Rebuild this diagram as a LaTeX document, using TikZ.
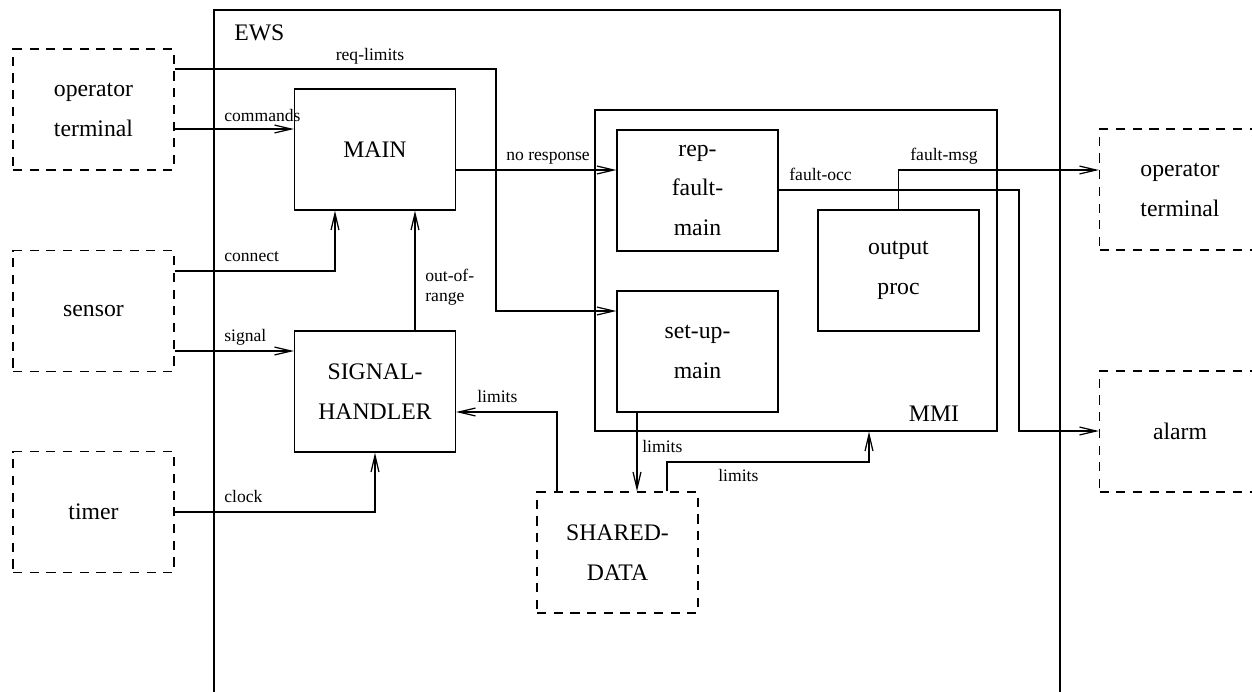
\documentclass[tikz,border=0pt]{standalone}
\usepackage{fontspec}
\setmainfont{Liberation Serif}
\usetikzlibrary{arrows.meta}

\tikzset{
	blk/.style={draw, line width=0.75pt, minimum width=3.22cm, minimum height=2.42cm, inner sep=0pt, align=center, font=\fontsize{13.5}{22.7}\selectfont},
	ext/.style={blk, dash pattern=on 5.2pt off 4.3pt},
	lbl/.style={anchor=base west, inner sep=0pt, font=\fontsize{10}{11.3}\selectfont},
	flow/.style={line width=0.7pt, -{Straight Barb[length=9.5pt,width=4.5pt]}},
}

\begin{document}
\begin{tikzpicture}[x=0.02cm, y=-0.02cm]
					\path[use as bounding box, clip] (0,0) rectangle (1252,691);
					% EWS and MMI
					\draw[line width=0.75pt] (214,10) rectangle (1060,720);
					\node[lbl, font=\fontsize{13.5}{16}\selectfont] (ews) at (234,40) {EWS};
					\node[draw, line width=0.75pt, minimum width=8.04cm, minimum height=6.42cm] (mmi) at (796,270.5) {};
					\node[lbl, anchor=base, font=\fontsize{13.5}{16}\selectfont] (mmilbl) at (934,421) {MMI};
					% boxes
					\node[ext] (opl) at (93.5,109.5) {operator\\terminal};
					\node[ext] (sensor) at (93.5,311) {sensor};
					\node[ext] (timer) at (93.5,512) {timer};
					\node[blk] (main) at (375,149.5) {MAIN};
					\node[blk] (sighand) at (375,391.5) {SIGNAL-\\HANDLER};
					\node[blk] (rfm) at (697.5,190.5) {rep-\\fault-\\main};
					\node[blk] (sum) at (697.5,351.5) {set-up-\\main};
					\node[blk] (outp) at (898.5,270.5) {output\\proc};
					\node[ext] (shared) at (617.5,552.5) {SHARED-\\DATA};
					\node[ext] (opr) at (1180,189.5) {operator\\terminal};
					\node[ext] (alarm) at (1180,431.5) {alarm};
					% connectors
					\draw[flow] (opl.east |- 0,69) -- (496,69) -- (496,311) -- (sum.west |- 0,311);
					\draw[flow] (opl.east |- 0,129) -- (main.west |- 0,129);
					\draw[flow] (main.east |- 0,170) -- (rfm.west |- 0,170);
					\draw[flow] (sensor.east |- 0,271) -- (335,271) -- (335,0 |- main.south);
					\draw[flow] (415,0 |- sighand.north) -- (415,0 |- main.south);
					\draw[flow] (sensor.east |- 0,351) -- (sighand.west |- 0,351);
					\draw[flow] (timer.east) -- (sighand.south |- timer.east) -- (sighand.south);
					\draw[flow] (557,0 |- shared.north) -- (557,412) -- (sighand.east |- 0,412);
					\draw[flow] (637,0 |- sum.south) -- (637,0 |- shared.north);
					\draw[flow] (667,0 |- shared.north) -- (667,462) -- (869,462) -- (869,0 |- mmi.south);
					\draw[flow] (rfm.east |- 0,190) -- (1019,190) -- (1019,431) -- (alarm.west |- 0,431);
					\draw[flow] (outp.north) -- (outp.north |- 0,170) -- (opr.west |- 0,170);
					% labels
					\node[lbl, anchor=base] (lreq) at (370,60) {req-limits};
					\node[lbl] (lcmd) at (224,121) {commands};
					\node[lbl] (lnoresp) at (506,160) {no response};
					\node[lbl] (lconn) at (224,261) {connect};
					\node[lbl, anchor=north west, align=left] (loor) at (425,269) {out-of-\\range};
					\node[lbl] (lsig) at (224,341) {signal};
					\node[lbl] (lclk) at (224,502) {clock};
					\node[lbl] (llim1) at (477,402) {limits};
					\node[lbl] (llim2) at (642,452) {limits};
					\node[lbl] (llim3) at (718,481) {limits};
					\node[lbl] (lfocc) at (789,180) {fault-occ};
					\node[lbl] (lfmsg) at (910,160) {fault-msg};
				\end{tikzpicture}
\end{document}
